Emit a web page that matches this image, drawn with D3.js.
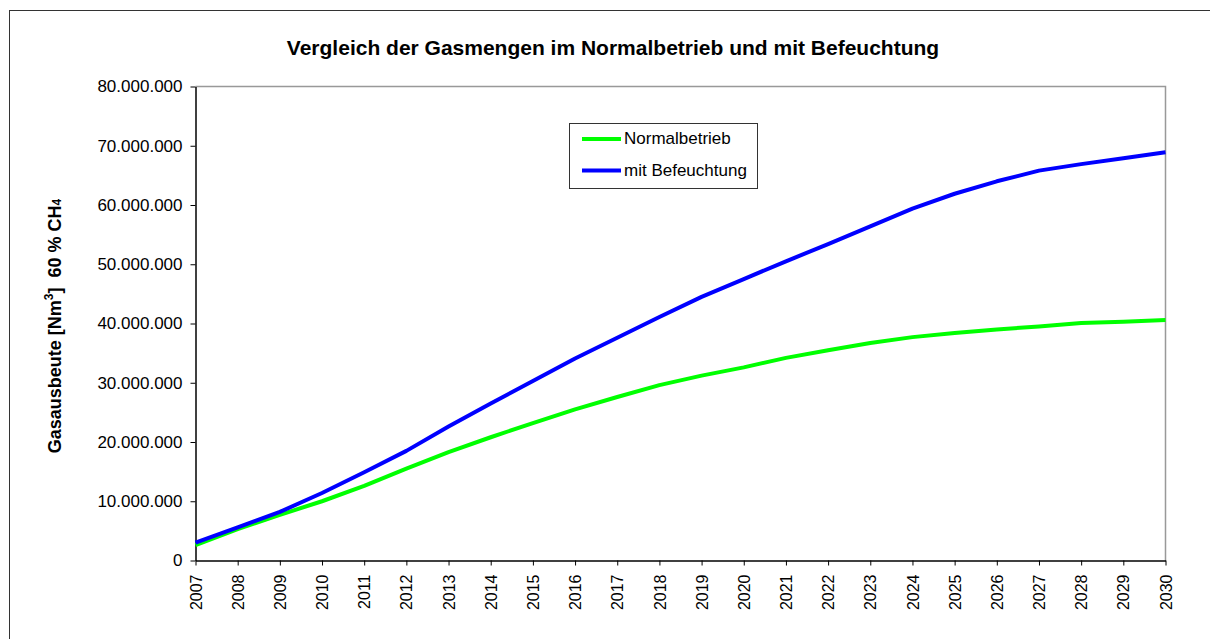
<!DOCTYPE html>
<html>
<head>
<meta charset="utf-8">
<script src="https://cdn.jsdelivr.net/npm/d3@7"></script>
<style>
  html, body { margin: 0; padding: 0; background: #fff; }
  svg { display: block; font-family: Arial, "Liberation Sans", sans-serif; }
</style>
</head>
<body>
<svg id="chart" width="1210" height="639"></svg>
<script>
// ---- data ----
const years = [2007, 2008, 2009, 2010, 2011, 2012, 2013, 2014, 2015, 2016, 2017, 2018,
               2019, 2020, 2021, 2022, 2023, 2024, 2025, 2026, 2027, 2028, 2029, 2030];
const normalbetrieb = [2.6, 5.3, 7.7, 10.0, 12.6, 15.5, 18.3, 20.8, 23.2, 25.5, 27.6, 29.6,
                       31.2, 32.6, 34.2, 35.5, 36.7, 37.7, 38.4, 39.0, 39.5, 40.1, 40.3, 40.6]
                       .map(v => v * 1e6);
const befeuchtung = [3.0, 5.6, 8.2, 11.4, 14.9, 18.5, 22.6, 26.5, 30.3, 34.1, 37.6, 41.1,
                     44.5, 47.5, 50.5, 53.4, 56.4, 59.4, 61.9, 64.0, 65.8, 66.9, 67.9, 68.9]
                     .map(v => v * 1e6);
const yTicks = [0, 10e6, 20e6, 30e6, 40e6, 50e6, 60e6, 70e6, 80e6];
const seriesNames = ["Normalbetrieb", "mit Befeuchtung"];
const seriesColors = ["#00ff00", "#0000ff"];
const titleText = "Vergleich der Gasmengen im Normalbetrieb und mit Befeuchtung";

// ---- layout ----
const svg = d3.select("#chart");
const plot = { left: 195.5, right: 1165.5, top: 86.5, bottom: 560.5 };

const x = d3.scaleLinear().domain([years[0], years[years.length - 1]]).range([plot.left, plot.right]);
const y = d3.scaleLinear().domain([0, 80e6]).range([plot.bottom, plot.top]);

const de = d3.formatLocale({ decimal: ",", thousands: ".", grouping: [3], currency: ["", " €"] });
const fmt = de.format(",d");

// outer frame
svg.append("rect").attr("x", 9.5).attr("y", 10.5).attr("width", 1220).attr("height", 640)
  .attr("fill", "#fff").attr("stroke", "#333").attr("stroke-width", 1);

// plot area top/right border
svg.append("path")
  .attr("d", `M${plot.left},${plot.top}H${plot.right}V${plot.bottom}`)
  .attr("fill", "none").attr("stroke", "#999").attr("stroke-width", 1.5);

// title
svg.append("text").attr("x", 613).attr("y", 55).attr("text-anchor", "middle")
  .attr("font-size", 21).attr("font-weight", "bold").attr("fill", "#000").text(titleText);

// y axis
const yAxis = svg.append("g").attr("transform", `translate(${plot.left},0)`)
  .call(d3.axisLeft(y).tickValues(yTicks).tickFormat(fmt).tickSize(5).tickSizeOuter(0).tickPadding(8));
yAxis.select(".domain").attr("stroke", "#000").attr("stroke-width", 1.5);
yAxis.selectAll(".tick line").attr("stroke", "#000");
yAxis.selectAll(".tick text").attr("font-size", 17).attr("fill", "#000")
  .attr("font-family", "Arial, 'Liberation Sans', sans-serif");

// x axis
const xAxis = svg.append("g").attr("transform", `translate(0,${plot.bottom})`)
  .call(d3.axisBottom(x).tickValues(years).tickFormat(d3.format("d")).tickSize(5).tickSizeOuter(0));
xAxis.select(".domain").attr("stroke", "#000").attr("stroke-width", 1.5);
xAxis.selectAll(".tick line").attr("stroke", "#000");
xAxis.selectAll(".tick text")
  .attr("font-size", 16).attr("fill", "#000")
  .attr("font-family", "Arial, 'Liberation Sans', sans-serif")
  .attr("transform", "rotate(-90)")
  .attr("text-anchor", "end")
  .attr("x", -14).attr("y", 0).attr("dy", "0.35em");

// y axis label
const yl = svg.append("text")
  .attr("transform", "translate(61,326) rotate(-90)")
  .attr("text-anchor", "middle").attr("font-size", 18).attr("font-weight", "bold").attr("fill", "#000");
yl.append("tspan").text("Gasausbeute [Nm");
yl.append("tspan").attr("font-size", 12).attr("dy", -8).text("3");
yl.append("tspan").attr("dy", 8).text("]\u00a0\u00a060 % CH");
yl.append("tspan").attr("font-size", 12).attr("dy", 0).text("4");

// lines
const line = d3.line().x((d, i) => x(years[i])).y(d => y(d)).curve(d3.curveLinear);
[normalbetrieb, befeuchtung].forEach((s, k) => {
  svg.append("path").datum(s).attr("d", line)
    .attr("fill", "none").attr("stroke", seriesColors[k]).attr("stroke-width", 4)
    .attr("stroke-linejoin", "round");
});

// legend
const lg = svg.append("g");
lg.append("rect").attr("x", 569.5).attr("y", 123.5).attr("width", 188).attr("height", 65)
  .attr("fill", "#fff").attr("stroke", "#333").attr("stroke-width", 1);
seriesNames.forEach((name, k) => {
  const ly = 139 + k * 31.5;
  lg.append("line").attr("x1", 582).attr("x2", 621).attr("y1", ly).attr("y2", ly)
    .attr("stroke", seriesColors[k]).attr("stroke-width", 4);
  lg.append("text").attr("x", 624).attr("y", ly + 5).attr("font-size", 17).attr("fill", "#000").text(name);
});
</script>
</body>
</html>
